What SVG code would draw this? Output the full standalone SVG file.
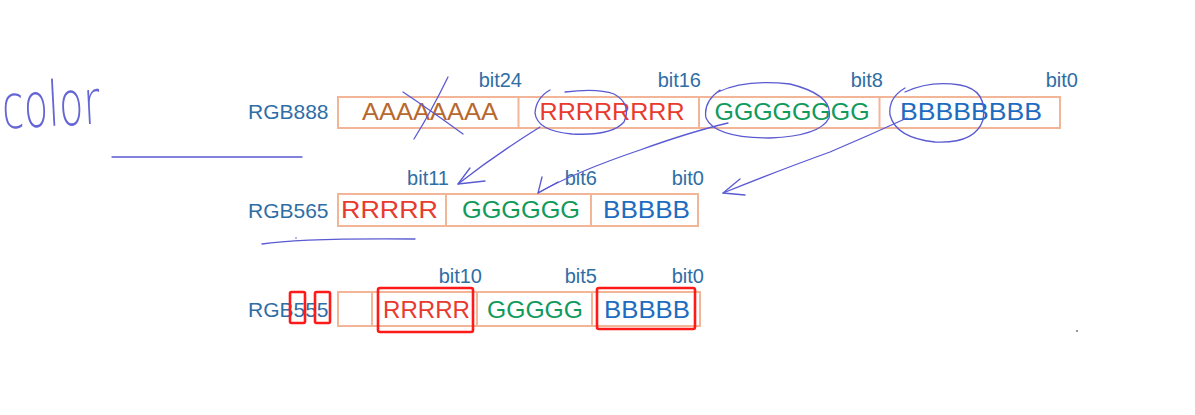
<svg xmlns="http://www.w3.org/2000/svg" width="1195" height="415" viewBox="0 0 1195 415">
<style>
.cell{fill:none;stroke:#f2b598;stroke-width:2}
.lbl{font-family:"Liberation Sans",Arial,sans-serif;font-size:21px;fill:#2f6ea5}
.bit{font-family:"Liberation Sans",Arial,sans-serif;font-size:20px;fill:#2f6ea5;text-anchor:end}
.v{font-family:"Liberation Sans",Arial,sans-serif;font-size:24px;text-anchor:middle}
.a{fill:#b8682e}.r{fill:#e83a2e}.g{fill:#109a5c}.b{fill:#1e6cbf}
.pen{fill:none;stroke:#5a5ad2;stroke-width:1.3;stroke-linecap:round;stroke-linejoin:round}
.hl{fill:none;stroke:#ff1a1a;stroke-width:2.6}
</style>
<rect width="1195" height="415" fill="#ffffff"/>

<g id="handwriting">
<text x="2" y="126" font-family="DejaVu Sans, sans-serif" font-weight="200" font-size="62" fill="#6565d6" textLength="98" lengthAdjust="spacingAndGlyphs" transform="rotate(-3 50 110)">color</text>
<line class="pen" x1="112" y1="157" x2="302" y2="157"/>
</g>

<g id="rgb888">
<text class="lbl" x="248" y="119">RGB888</text>
<rect class="cell" x="338" y="97" width="722" height="31"/>
<line class="cell" x1="518.5" y1="97" x2="518.5" y2="128"/>
<line class="cell" x1="699" y1="97" x2="699" y2="128"/>
<line class="cell" x1="879.5" y1="97" x2="879.5" y2="128"/>
<text class="v a" x="430" y="120" textLength="136" lengthAdjust="spacingAndGlyphs">AAAAAAAA</text>
<text class="v r" x="612" y="120" textLength="145" lengthAdjust="spacingAndGlyphs">RRRRRRRR</text>
<text class="v g" x="792" y="120" textLength="155" lengthAdjust="spacingAndGlyphs">GGGGGGGG</text>
<text class="v b" x="971" y="120" textLength="142" lengthAdjust="spacingAndGlyphs">BBBBBBBB</text>
<text class="bit" x="522" y="87">bit24</text>
<text class="bit" x="701" y="87">bit16</text>
<text class="bit" x="883" y="87">bit8</text>
<text class="bit" x="1078" y="87">bit0</text>
</g>

<g id="rgb565">
<text class="lbl" x="248" y="218">RGB565</text>
<rect class="cell" x="338" y="194" width="360" height="32"/>
<line class="cell" x1="446" y1="194" x2="446" y2="226"/>
<line class="cell" x1="591" y1="194" x2="591" y2="226"/>
<text class="v r" x="389.5" y="218" textLength="97" lengthAdjust="spacingAndGlyphs">RRRRR</text>
<text class="v g" x="521" y="218" textLength="118" lengthAdjust="spacingAndGlyphs">GGGGGG</text>
<text class="v b" x="646.5" y="218" textLength="87" lengthAdjust="spacingAndGlyphs">BBBBB</text>
<text class="bit" x="449" y="185">bit11</text>
<text class="bit" x="597" y="185">bit6</text>
<text class="bit" x="704" y="185">bit0</text>
</g>

<g id="rgb555">
<text class="lbl" x="248" y="317">RGB555</text>
<rect class="cell" x="338" y="292" width="362" height="34"/>
<line class="cell" x1="372" y1="292" x2="372" y2="326"/>
<line class="cell" x1="477" y1="292" x2="477" y2="326"/>
<line class="cell" x1="592" y1="292" x2="592" y2="326"/>
<text class="v r" x="426.5" y="318" textLength="87" lengthAdjust="spacingAndGlyphs">RRRRR</text>
<text class="v g" x="535" y="318" textLength="96" lengthAdjust="spacingAndGlyphs">GGGGG</text>
<text class="v b" x="647" y="318" textLength="86" lengthAdjust="spacingAndGlyphs">BBBBB</text>
<text class="bit" x="482" y="283">bit10</text>
<text class="bit" x="597" y="283">bit5</text>
<text class="bit" x="704" y="283">bit0</text>
<rect class="hl" x="290" y="292" width="15" height="31" rx="1.5"/>
<rect class="hl" x="315" y="292" width="15" height="31" rx="1.5"/>
<rect class="hl" x="378" y="288" width="95" height="44" rx="2"/>
<rect class="hl" x="597" y="288" width="98" height="41" rx="2"/>
</g>

<g id="connectors">
<path class="pen" d="M403 92 Q430 110 463 134"/>
<path class="pen" d="M448 77 Q432 110 414 139"/>
<path class="pen" d="M550 90 Q536 98 535 113 Q537 131 572 134 Q612 136 624 122 Q632 104 614 94 Q598 88 565 92"/>
<path class="pen" d="M540 127 Q495 155 458 184"/>
<path class="pen" d="M470 168 L458 184 L485 181"/>
<path class="pen" d="M720 90 Q703 102 706 118 Q715 138 770 138 Q820 136 829 118 Q834 95 790 84 Q745 79 718 92"/>
<path class="pen" d="M728 123 Q690 132 640 150 Q575 172 538 193"/>
<path class="pen" d="M542 177 L538 193 L558 182"/>
<path class="pen" d="M905 88 Q888 98 890 115 Q896 138 935 142 Q975 144 983 120 Q988 90 960 85 Q930 80 905 92"/>
<path class="pen" d="M907 118 Q870 135 830 152 Q780 170 723 193"/>
<path class="pen" d="M740 179 L723 193 L745 195"/>
<path class="pen" d="M262 244 Q300 238 415 239"/>
<circle cx="296" cy="238" r="0.8" fill="#5a5ad2"/>
<circle cx="1077" cy="331" r="0.9" fill="#666"/>
</g>
</svg>
